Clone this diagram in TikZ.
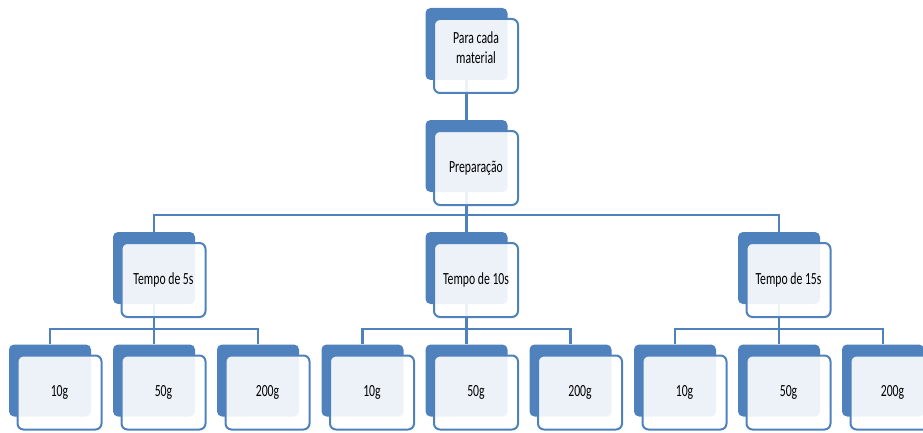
\documentclass[tikz,border=0pt]{standalone}
\usepackage{fontspec}
\setmainfont{Carlito}[FakeStretch=0.69]
\usetikzlibrary{backgrounds}
\definecolor{accent}{RGB}{79,129,189}

\begin{document}
\begin{tikzpicture}[x=1pt, y=1pt, font=\fontsize{17}{20}\selectfont,
   back/.style={fill=accent, rounded corners=5pt, inner sep=0pt,
     minimum width=82pt, minimum height=72pt},
   front/.style={draw=accent, line width=2pt, fill=white, fill opacity=0.9,
     text opacity=1, rounded corners=6pt, align=center, inner sep=2pt,
     minimum width=84pt, minimum height=74pt, xshift=9.5pt, yshift=-12pt},
   link/.style={draw=accent, line width=2.5pt}]
  \useasboundingbox (0,0) rectangle (923,432);

  % root and preparation
  \node[back] (mat-b) at (466.5,388) {};
  \node[front, text depth=16pt] (mat) at (mat-b) {Para cada\\material};
  \node[back] (prep-b) at (466.5,276) {};
  \node[front] (prep) at (prep-b) {Preparação};

  % times and masses
  \foreach \g/\gx in {5/154, 10/466.5, 15/779} {
    \node[back] (t\g-b) at (\gx,164) {};
    \node[front] (t\g) at (t\g-b) {Tempo de \g s};
    \foreach \m/\dx in {10/-104, 50/0, 200/104} {
      \node[back] (l\g-\m-b) at (\gx+\dx,51.5) {};
      \node[front] (l\g-\m) at (l\g-\m-b) {\m g};
    }
  }

  % connectors behind the boxes
  \begin{scope}[on background layer]
    \draw[link] (mat-b.south) -- (prep-b.north);
    \foreach \g in {5,10,15} {
      \draw[link] (prep-b.south) -- ++(0,-23) -| (t\g-b.north);
      \foreach \m in {10,50,200}
        \draw[link] (t\g-b.south) -- ++(0,-25) -| (l\g-\m-b.north);
    }
  \end{scope}
\end{tikzpicture}
\end{document}
